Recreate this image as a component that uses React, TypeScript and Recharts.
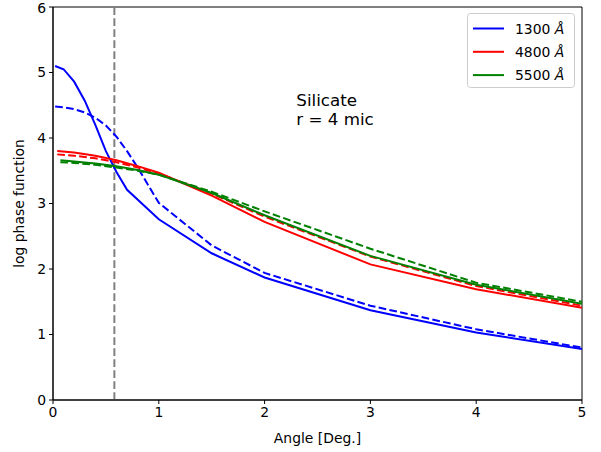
import React from 'react';
import { LineChart, Line, XAxis, YAxis, ReferenceLine, ReferenceArea, ReferenceDot, Legend } from 'recharts';

const blueSolidX = [0.02, 0.1, 0.2, 0.3, 0.4, 0.5, 0.6, 0.7, 1, 1.5, 2, 3, 4, 5];
const blueSolidY = [5.10, 5.05, 4.86, 4.57, 4.20, 3.80, 3.48, 3.21, 2.76, 2.24, 1.87, 1.37, 1.03, 0.78];

const blueDashX = [0.02, 0.1, 0.2, 0.3, 0.4, 0.5, 0.6, 0.7, 0.8, 0.9, 1, 1.5, 2, 3, 4, 5];
const blueDashY = [4.48, 4.47, 4.44, 4.39, 4.31, 4.19, 4.02, 3.80, 3.55, 3.28, 3.01, 2.36, 1.94, 1.44, 1.08, 0.80];

const redX = [0.04, 0.2, 0.4, 0.6, 0.8, 1, 1.5, 2, 3, 4, 5];
const redSolidY = [3.80, 3.78, 3.73, 3.66, 3.57, 3.47, 3.12, 2.72, 2.07, 1.69, 1.41];
const redDashY = [3.75, 3.73, 3.69, 3.63, 3.55, 3.46, 3.15, 2.80, 2.19, 1.74, 1.44];

const greenX = [0.07, 0.2, 0.4, 0.6, 0.8, 1, 1.5, 2, 3, 4, 5];
const greenSolidY = [3.66, 3.64, 3.61, 3.57, 3.51, 3.44, 3.16, 2.82, 2.20, 1.76, 1.47];
const greenDashY = [3.63, 3.62, 3.59, 3.55, 3.50, 3.44, 3.18, 2.88, 2.31, 1.79, 1.50];

const xTicks = [0, 1, 2, 3, 4, 5];
const yTicks = [0, 1, 2, 3, 4, 5, 6];
const markerAngle = 0.58;

const legendLabels = ['1300', '4800', '5500'];
const legendColors = ['#0000ff', '#ff0000', '#008000'];

const annotation = ['Silicate', 'r = 4 mic'];
const annotationPos = { x: 2.3, y: 4.49 };

const zip = (xs: number[], ys: number[]) => xs.map((x, i) => ({ x, y: ys[i] }));

const FONT = 'DejaVu Sans, sans-serif';
const DASH = '7.7 3.3';

const LegendBox = () => (
  <svg width={108} height={76} style={{ display: 'block' }}>
    <rect x={0.5} y={0.5} width={107} height={74} rx={3} ry={3} fill="rgba(255,255,255,0.8)" stroke="#cccccc" strokeWidth={1} />
    {legendLabels.map((lab, i) => (
      <g key={lab}>
        <line x1={6} x2={37} y1={15.5 + i * 23.3} y2={15.5 + i * 23.3} stroke={legendColors[i]} strokeWidth={2} />
        <text x={48} y={20.5 + i * 23.3} fontFamily={FONT} fontSize={13.9} fill="#000">
          {lab + ' '}
          <tspan fontStyle="italic">Å</tspan>
        </text>
      </g>
    ))}
  </svg>
);

const AnnotationLabel = (props: any) => {
  const vb = props.viewBox || {};
  const cx = vb.cx !== undefined ? vb.cx : vb.x;
  const cy = vb.cy !== undefined ? vb.cy : vb.y;
  return (
    <text x={cx} y={cy} fontFamily={FONT} fontSize={16.7} fill="#000">
      {annotation.map((t, i) => (
        <tspan key={i} x={cx} dy={i === 0 ? 0 : 19.5}>{t}</tspan>
      ))}
    </text>
  );
};

export default function App() {
  return (
    <div style={{ position: 'absolute', left: 0, top: 0, width: 601, height: 452, background: '#fff' }}>
      <LineChart width={601} height={452} margin={{ top: 7, right: 19, bottom: 0, left: 0 }}>
        <XAxis
          dataKey="x"
          type="number"
          domain={[0, 5]}
          ticks={xTicks}
          allowDataOverflow
          height={52}
          tickSize={4}
          tickMargin={3}
          stroke="#000"
          tick={{ fill: '#000', fontSize: 13.9, fontFamily: FONT }}
          label={{ value: 'Angle [Deg.]', position: 'center', dy: 12, fill: '#000', fontSize: 13.9, fontFamily: FONT }}
        />
        <YAxis
          type="number"
          domain={[0, 6]}
          ticks={yTicks}
          allowDataOverflow
          width={53}
          tickSize={4}
          tickMargin={3}
          stroke="#000"
          tick={{ fill: '#000', fontSize: 13.9, fontFamily: FONT }}
          label={{ value: 'log phase function', angle: -90, position: 'center', dx: -7, fill: '#000', fontSize: 13.9, fontFamily: FONT }}
        />
        <ReferenceArea x1={0} x2={5} y1={0} y2={6} fill="none" stroke="#000" strokeWidth={1} fillOpacity={0} />
        <ReferenceLine x={markerAngle} stroke="#808080" strokeWidth={2} strokeDasharray={DASH} />
        <Line data={zip(blueSolidX, blueSolidY)} dataKey="y" stroke="#0000ff" strokeWidth={2} dot={false} isAnimationActive={false} type="linear" />
        <Line data={zip(blueDashX, blueDashY)} dataKey="y" stroke="#0000ff" strokeWidth={2} strokeDasharray={DASH} dot={false} isAnimationActive={false} type="linear" legendType="none" />
        <Line data={zip(redX, redSolidY)} dataKey="y" stroke="#ff0000" strokeWidth={2} dot={false} isAnimationActive={false} type="linear" />
        <Line data={zip(redX, redDashY)} dataKey="y" stroke="#ff0000" strokeWidth={2} strokeDasharray={DASH} dot={false} isAnimationActive={false} type="linear" legendType="none" />
        <Line data={zip(greenX, greenSolidY)} dataKey="y" stroke="#008000" strokeWidth={2} dot={false} isAnimationActive={false} type="linear" />
        <Line data={zip(greenX, greenDashY)} dataKey="y" stroke="#008000" strokeWidth={2} strokeDasharray={DASH} dot={false} isAnimationActive={false} type="linear" legendType="none" />
        <ReferenceDot x={annotationPos.x} y={annotationPos.y} r={0} fill="none" stroke="none" label={<AnnotationLabel />} />
        <Legend
          layout="vertical"
          align="center"
          verticalAlign="middle"
          content={() => <LegendBox />}
          wrapperStyle={{ left: 467, top: 13, right: 'auto', bottom: 'auto', width: 108, height: 76 }}
        />
      </LineChart>
    </div>
  );
}
